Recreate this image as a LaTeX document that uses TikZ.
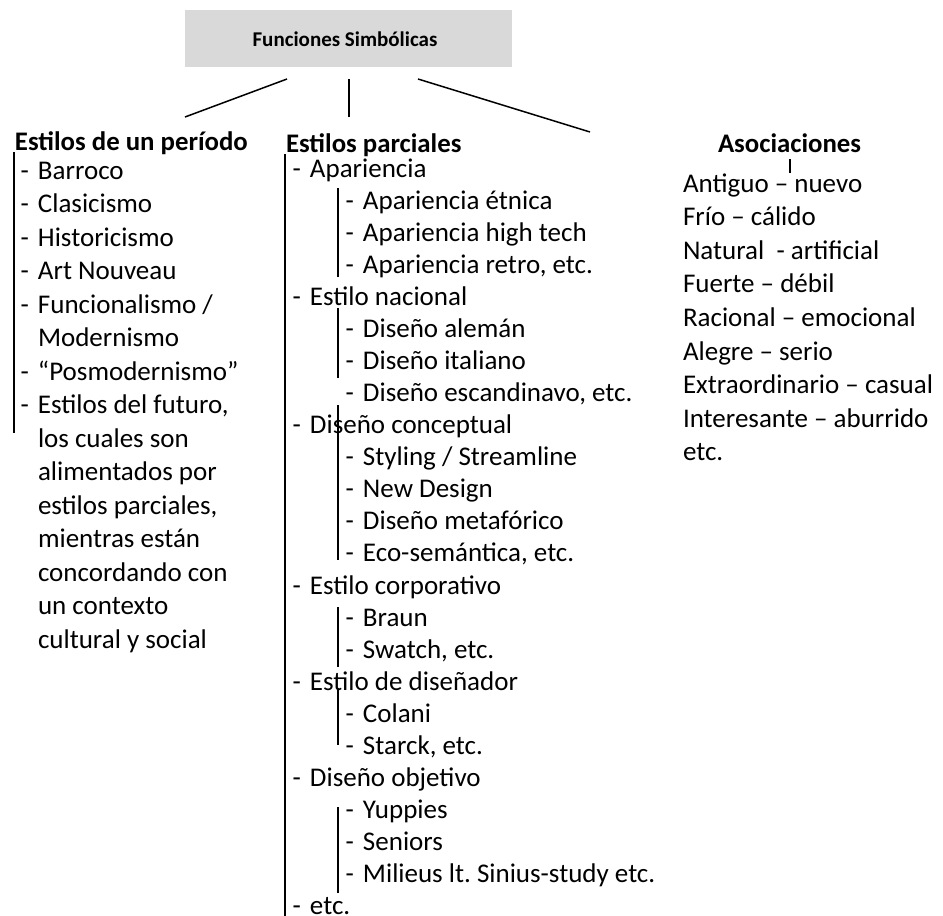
\documentclass[tikz,border=0pt]{standalone}
\usepackage{fontspec}
\setmainfont{Carlito}
\definecolor{titlegray}{RGB}{217,217,217}
\newcommand{\dsh}{\llap{-\hskip 9pt}}
\frenchspacing
\begin{document}
\begin{tikzpicture}[x=1pt,y=-1pt,
  txt/.style={anchor=base west, inner sep=0pt, outer sep=0pt, font=\fontsize{27}{32}\selectfont},
  hdr/.style={anchor=base west, inner sep=0pt, outer sep=0pt, font=\fontsize{26.8}{32}\selectfont\bfseries},
  titlebox/.style={fill=titlegray, draw=none, minimum width=327pt, minimum height=57pt, inner sep=0pt},
  titletxt/.style={anchor=base, inner sep=0pt, font=\fontsize{21}{24}\selectfont\bfseries},
  bar/.style={line width=2pt},
  link/.style={line width=1.5pt}]
\useasboundingbox (0,0) rectangle (943,916);
% title
\node[titlebox] (title) at (348.5,38.5) {};
\node[titletxt] (titletext) at (345,46) {Funciones Simbólicas};
% connectors from title
\coordinate (t1) at (287,79); \coordinate (h1) at (185,117);
\coordinate (t2) at (349,79); \coordinate (h2) at (349,117);
\coordinate (t3) at (418,79); \coordinate (h3) at (590,132);
\draw[link] (t1) -- (h1);
\draw[link] (t2) -- (h2);
\draw[link] (t3) -- (h3);
% left column
\node[hdr] (hl) at (15,150) {Estilos de un período};
\coordinate (lb1) at (14,152); \coordinate (lb2) at (14,433);
\draw[bar] (lb1) -- (lb2);
\foreach \t [count=\i from 0] in {\dsh Barroco,\dsh Clasicismo,\dsh Historicismo,\dsh Art Nouveau,{\dsh Funcionalismo /},Modernismo,\dsh “Posmodernismo”,{\dsh Estilos del futuro,},los cuales son,alimentados por,{estilos parciales,},mientras están,concordando con,un contexto,cultural y social}
  \node[txt] (l\i) at (38,179+33.5*\i) {\t};
% middle column
\node[hdr] (hm) at (286,152) {Estilos parciales};
\coordinate (mb1) at (285,154); \coordinate (mb2) at (285,916);
\draw[bar] (mb1) -- (mb2);
\foreach \t/\lv [count=\i from 0] in {
  {Apariencia}/1, {Apariencia étnica}/2, {Apariencia high tech}/2, {Apariencia retro, etc.}/2,
  {Estilo nacional}/1, {Diseño alemán}/2, {Diseño italiano}/2, {Diseño escandinavo, etc.}/2,
  {Diseño conceptual}/1, {Styling / Streamline}/2, {New Design}/2, {Diseño metafórico}/2, {Eco-semántica, etc.}/2,
  {Estilo corporativo}/1, {Braun}/2, {Swatch, etc.}/2,
  {Estilo de diseñador}/1, {Colani}/2, {Starck, etc.}/2,
  {Diseño objetivo}/1, {Yuppies}/2, {Seniors}/2, {Milieus lt. Sinius-study etc.}/2,
  {etc.}/1}
  \node[txt] (m\i) at (257+53*\lv,177+32.08*\i) {\dsh \t};
\foreach \a/\b in {188/277, 308/378, 405/560, 607/667, 688/745, 807/893}{
  \coordinate (sa\a) at (338,\a); \coordinate (sb\a) at (338,\b);
  \draw[bar] (sa\a) -- (sb\a);
}
% right column
\node[hdr] (hr) at (718,152) {Asociaciones};
\coordinate (rt1) at (790,159); \coordinate (rt2) at (790,173);
\draw[link] (rt1) -- (rt2);
\foreach \t [count=\i from 0] in {Antiguo – nuevo,Frío – cálido,Natural\ \ - artificial,Fuerte – débil,Racional – emocional,Alegre – serio,Extraordinario – casual,Interesante – aburrido,etc.}
  \node[txt] (r\i) at (683,192+33.6*\i) {\t};
\end{tikzpicture}
\end{document}
